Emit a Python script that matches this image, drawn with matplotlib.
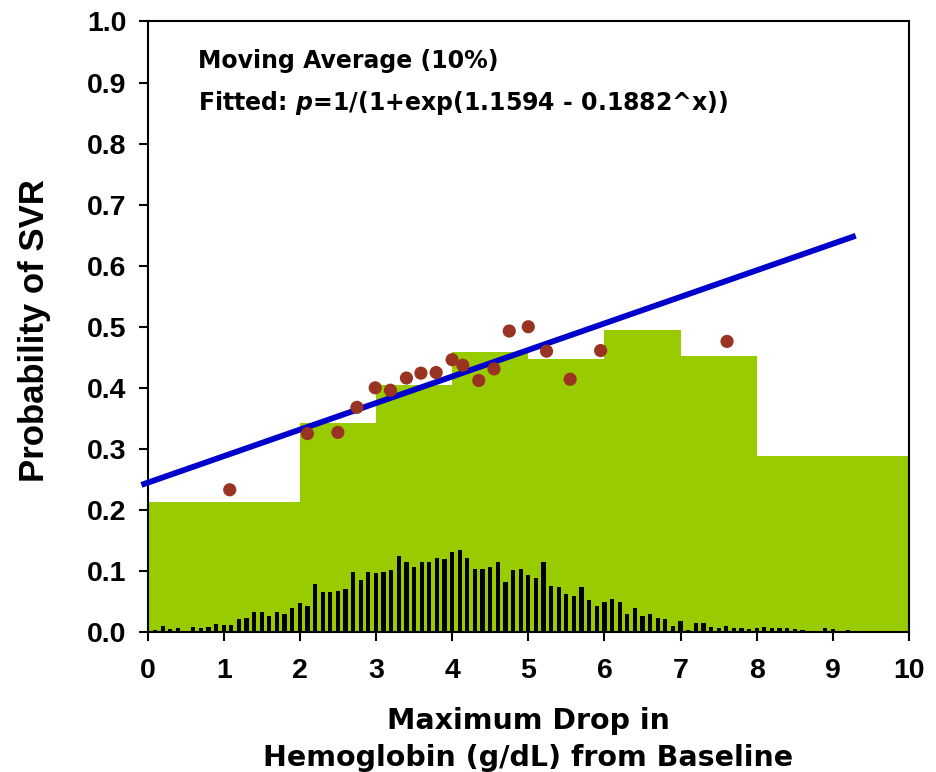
import matplotlib
matplotlib.use("Agg")
import matplotlib.pyplot as plt
import numpy as np

plt.rcParams['font.family'] = ['Liberation Sans', 'DejaVu Sans']
plt.rcParams['font.weight'] = 'bold'
plt.rcParams['mathtext.fontset'] = 'dejavusans'

# Moving-average step bars (green)
step_edges = [0, 2, 3, 4, 5, 6, 7, 8, 10]
step_heights = [0.213, 0.342, 0.405, 0.459, 0.447, 0.494, 0.452, 0.289]

# Distribution histogram (black thin bars) at x = 0.1 ... 9.3
hist_x = [round(0.1 * i, 1) for i in range(1, 94)]
hist_h = [0.003, 0.010, 0.005, 0.007, 0.001, 0.009, 0.007, 0.008, 0.013, 0.012,
          0.011, 0.022, 0.023, 0.033, 0.032, 0.026, 0.033, 0.030, 0.040, 0.047,
          0.043, 0.078, 0.065, 0.066, 0.067, 0.071, 0.098, 0.085, 0.098, 0.097,
          0.098, 0.101, 0.125, 0.115, 0.106, 0.114, 0.114, 0.122, 0.120, 0.131,
          0.135, 0.122, 0.104, 0.103, 0.107, 0.114, 0.082, 0.102, 0.104, 0.093,
          0.089, 0.114, 0.075, 0.074, 0.062, 0.059, 0.074, 0.052, 0.043, 0.049,
          0.054, 0.050, 0.030, 0.040, 0.027, 0.030, 0.023, 0.022, 0.010, 0.018,
          0.004, 0.015, 0.015, 0.009, 0.006, 0.010, 0.007, 0.007, 0.005, 0.007,
          0.009, 0.007, 0.007, 0.007, 0.005, 0.003, 0.0, 0.0, 0.006, 0.005,
          0.002, 0.003, 0.002]

# Observed points (brown dots)
pts_x = [1.08, 2.10, 2.50, 2.75, 2.99, 3.19, 3.40, 3.59, 3.79, 4.00,
         4.14, 4.35, 4.55, 4.75, 5.00, 5.24, 5.55, 5.95, 7.61]
pts_y = [0.233, 0.325, 0.327, 0.368, 0.400, 0.396, 0.416, 0.424, 0.425, 0.446,
         0.437, 0.412, 0.431, 0.493, 0.500, 0.460, 0.414, 0.461, 0.476]

# Fitted line (read endpoints)
fit_x = [-0.08, 9.3]
fit_y = [0.241, 0.649]

x_ticks = list(range(0, 11))
y_ticks = [round(0.1 * i, 1) for i in range(0, 11)]

fig = plt.figure(figsize=(9.36, 7.72), dpi=100)
ax = fig.add_axes([0.1576, 0.1813, 0.8136, 0.7909])

widths = np.diff(step_edges)
ax.bar(step_edges[:-1], step_heights, width=widths, align='edge',
       color='#99CC00', edgecolor='none', zorder=1)
ax.bar(hist_x, hist_h, width=0.055, color='black', edgecolor='none', zorder=2)
ax.plot(fit_x, fit_y, color='#0000CC', lw=4.2, zorder=3, clip_on=False,
        solid_capstyle='butt')
ax.scatter(pts_x, pts_y, s=90, color='#993322', edgecolors='none', zorder=4)

ax.set_xlim(0, 10)
ax.set_ylim(0, 1.0)
ax.set_xticks(x_ticks)
ax.set_yticks(y_ticks)
ax.set_yticklabels([f"{v:.1f}" for v in y_ticks])
ax.tick_params(direction='out', length=6.3, width=1.5, labelsize=20.5)
ax.tick_params(axis='x', pad=12.5)
ax.tick_params(axis='y', pad=9)
for lab in ax.get_xticklabels() + ax.get_yticklabels():
    lab.set_fontweight('bold')
for s in ax.spines.values():
    s.set_linewidth(1.5)

ax.set_ylabel("Probability of SVR", fontsize=25, fontweight='bold')
ax.yaxis.label.set_verticalalignment('center')
ax.yaxis.set_label_coords(-0.1484, 0.493)

wide = ['DejaVu Sans']
ax.set_xlabel("Maximum Drop in", fontsize=20.5, fontweight='bold', family=wide)
ax.xaxis.label.set_verticalalignment('baseline')
ax.xaxis.set_label_coords(0.5, (632 - 729) / 610.5)
ax.text(0.5, (632 - 766) / 610.5, "Hemoglobin (g/dL) from Baseline",
        transform=ax.transAxes, fontsize=20.5, fontweight='bold', family=wide,
        ha='center', va='baseline')

ax.text(0.667, 0.9233, "Moving Average (10%)", fontsize=17, fontweight='bold',
        family=wide, va='baseline', ha='left')
ax.text(0.667, 0.855, r"Fitted: $\boldsymbol{p}$=1/(1+exp(1.1594 - 0.1882^x))",
        fontsize=17, fontweight='bold', family=wide, va='baseline', ha='left')

fig.savefig("out.png", dpi=100)
